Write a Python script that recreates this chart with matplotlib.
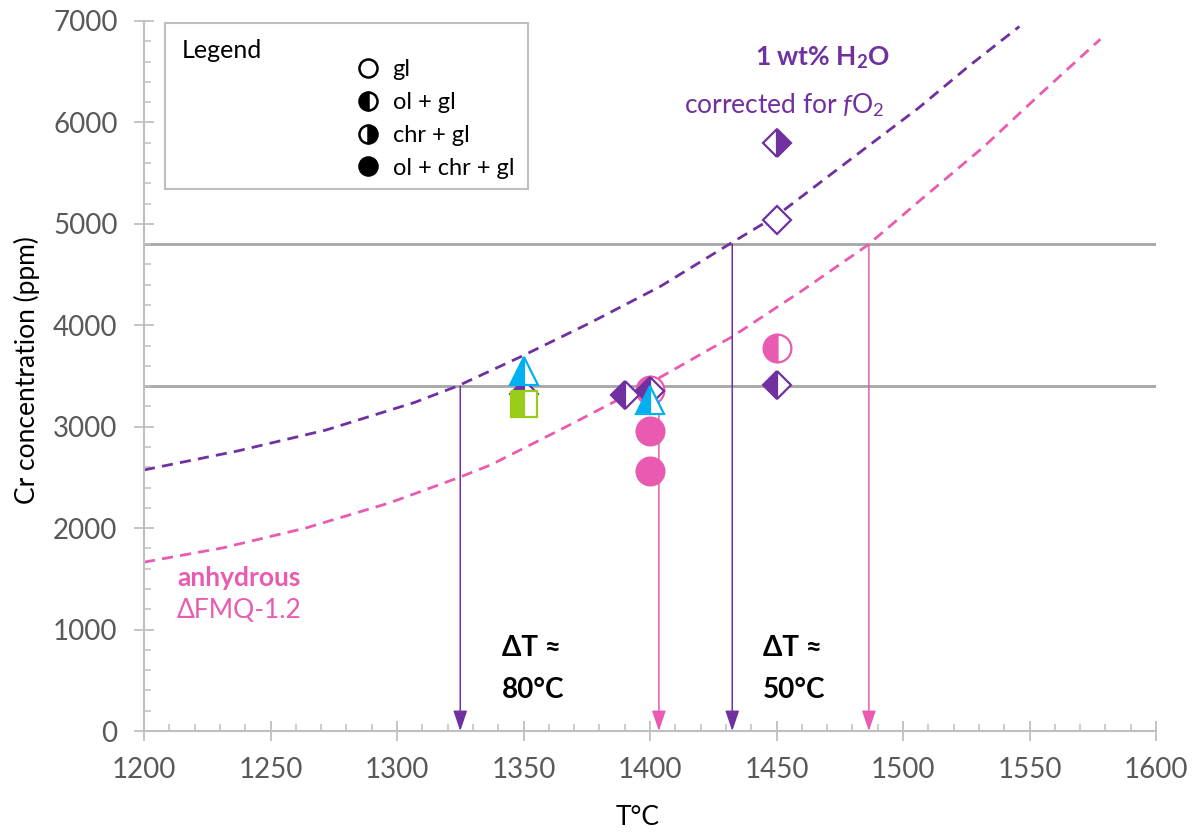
import matplotlib
matplotlib.use('Agg')
import matplotlib.pyplot as plt
from matplotlib.lines import Line2D
from matplotlib.patches import Rectangle
from matplotlib.ticker import MultipleLocator

plt.rcParams['font.family'] = ['Lato', 'DejaVu Sans']
plt.rcParams['mathtext.fontset'] = 'custom'
plt.rcParams['mathtext.rm'] = 'Lato'
plt.rcParams['mathtext.it'] = 'Lato:italic'
plt.rcParams['mathtext.bf'] = 'Lato:bold'

PURPLE = '#7030A0'
PINK = '#E95BB0'
CYAN = '#00B0F0'
GREEN = '#9ACD1A'
GRID = '#A6A6A6'
AXIS = '#BFBFBF'

# model curves
t_hydrous = [1200, 1237, 1272, 1307, 1324, 1349, 1376, 1404, 1432, 1450, 1480, 1506, 1526, 1546]
cr_hydrous = [2574, 2761, 2968, 3240, 3402, 3691, 4020, 4382, 4810, 5080, 5650, 6140, 6555, 6946]
t_anhydrous = [1200, 1231, 1264, 1297, 1324, 1337, 1370, 1400, 1424, 1432, 1460, 1486, 1507, 1532, 1554, 1578]
cr_anhydrous = [1665, 1805, 2002, 2249, 2495, 2623, 3040, 3430, 3770, 3880, 4340, 4790, 5237, 5762, 6274, 6821]

# reference Cr levels and where the curves cross them
cr_levels = [3400, 4800]
t_cross_hydrous = [1325, 1432.5]
t_cross_anhydrous = [1403.5, 1486.5]

# experiments
pink_t = [1400, 1400, 1400, 1450]
pink_cr = [3360, 2960, 2565, 3775]
pink_phase = ['ol+gl', 'ol+chr+gl', 'ol+chr+gl', 'ol+gl']

purple_t = [1350, 1390, 1400, 1450, 1450, 1450]
purple_cr = [3320, 3310, 3350, 5795, 5035, 3410]
purple_phase = ['ol+gl', 'ol+gl', 'ol+gl', 'chr+gl', 'gl', 'ol+gl']

green_t = [1350]
green_cr = [3225]
green_phase = ['ol+gl']

cyan_t = [1350, 1400]
cyan_cr = [3550, 3260]
cyan_phase = ['ol+gl', 'ol+gl']

fill_for = {'gl': 'none', 'ol+gl': 'left', 'chr+gl': 'right', 'ol+chr+gl': 'full'}


def draw_points(ax, ts, crs, phases, color, marker, ms, z):
    for t, cr, ph in zip(ts, crs, phases):
        fs = fill_for[ph]
        ax.plot([t], [cr], marker=marker, ms=ms, ls='none', color=color,
                mec=color, mew=1.6,
                fillstyle='full' if fs == 'none' else fs,
                mfc='white' if fs == 'none' else color,
                markerfacecoloralt='white', zorder=z)


fig = plt.figure(figsize=(11.95, 8.33), dpi=100)
ax = fig.add_axes([0.1205, 0.1224, 0.8469, 0.8524])

for lvl in cr_levels:
    ax.axhline(lvl, color=GRID, lw=2, zorder=1)

ax.plot(t_hydrous, cr_hydrous, color=PURPLE, lw=2.0, ls=(0, (4, 2.6)), zorder=2)
ax.plot(t_anhydrous, cr_anhydrous, color=PINK, lw=2.0, ls=(0, (4, 2.6)), zorder=2)

for t, lvl in zip(t_cross_hydrous, cr_levels):
    ax.annotate('', xy=(t, 0), xytext=(t, lvl),
                arrowprops=dict(arrowstyle='-|>,head_length=0.5,head_width=0.17',
                                color=PURPLE, lw=1.1, mutation_scale=25,
                                shrinkA=0, shrinkB=0), zorder=3)
for t, lvl in zip(t_cross_anhydrous, cr_levels):
    ax.annotate('', xy=(t, 0), xytext=(t, lvl),
                arrowprops=dict(arrowstyle='-|>,head_length=0.5,head_width=0.17',
                                color=PINK, lw=1.1, mutation_scale=25,
                                shrinkA=0, shrinkB=0), zorder=3)

draw_points(ax, pink_t, pink_cr, pink_phase, PINK, 'o', 20, 4)
draw_points(ax, purple_t, purple_cr, purple_phase, PURPLE, 'D', 14, 5)
draw_points(ax, green_t, green_cr, green_phase, GREEN, 's', 19, 6)
draw_points(ax, cyan_t, cyan_cr, cyan_phase, CYAN, '^', 20, 7)

# text labels
ax.text(1468, 6637, r'1 wt% H$_\mathbf{2}$O', color=PURPLE, fontsize=19,
        fontweight='bold', ha='center', va='center')
ax.text(1453, 6173, r'corrected for $f$O$_2$', color=PURPLE, fontsize=19,
        ha='center', va='center')
ax.text(1213, 1509, 'anhydrous', color=PINK, fontsize=19, fontweight='bold',
        ha='left', va='center')
ax.text(1213, 1193, 'ΔFMQ-1.2', color=PINK, fontsize=19, ha='left', va='center')
ax.text(1341.5, 818, 'ΔT ≈', fontsize=20, fontweight='bold', ha='left', va='center')
ax.text(1341.5, 404, '80°C', fontsize=20, fontweight='bold', ha='left', va='center')
ax.text(1444.7, 818, 'ΔT ≈', fontsize=20, fontweight='bold', ha='left', va='center')
ax.text(1444.7, 404, '50°C', fontsize=20, fontweight='bold', ha='left', va='center')

# legend box
ax.add_patch(Rectangle((0.0208, 0.763), 0.359, 0.234, transform=ax.transAxes,
                       fc='white', ec=AXIS, lw=1.5, zorder=8))
ax.text(0.0375, 0.958, 'Legend', transform=ax.transAxes, fontsize=18,
        ha='left', va='center', zorder=9)
leg_labels = ['gl', 'ol + gl', 'chr + gl', 'ol + chr + gl']
leg_phases = ['gl', 'ol+gl', 'chr+gl', 'ol+chr+gl']
handles = []
for ph in leg_phases:
    fs = fill_for[ph]
    handles.append(Line2D([], [], marker='o', ls='none', ms=13, color='black',
                          mec='black', mew=1.8,
                          fillstyle='full' if fs == 'none' else fs,
                          mfc='white' if fs == 'none' else 'black',
                          markerfacecoloralt='white'))
leg = ax.legend(handles, leg_labels, loc='upper left', bbox_to_anchor=(0.2095, 0.946),
                frameon=False, fontsize=17, borderpad=0, borderaxespad=0,
                handlelength=1.0, handletextpad=0.55, labelspacing=0.5)
leg.set_zorder(10)

# axes styling
ax.set_xlim(1200, 1600)
ax.set_ylim(0, 7000)
ax.xaxis.set_major_locator(MultipleLocator(50))
ax.xaxis.set_minor_locator(MultipleLocator(10))
ax.yaxis.set_major_locator(MultipleLocator(1000))
ax.yaxis.set_minor_locator(MultipleLocator(200))
for s in ['top', 'right']:
    ax.spines[s].set_visible(False)
for s in ['left', 'bottom']:
    ax.spines[s].set_color(AXIS)
    ax.spines[s].set_linewidth(1.5)
ax.tick_params(which='major', direction='inout', length=14, width=1.3,
               color=AXIS, labelsize=20, labelcolor='#595959', pad=12)
ax.tick_params(which='minor', direction='in', length=5, width=1.1, color=AXIS)
ax.set_xlabel('T°C', fontsize=19)
ax.set_ylabel('Cr concentration (ppm)', fontsize=19)
ax.xaxis.set_label_coords(0.488, -0.104)
ax.yaxis.set_label_coords(-0.103, 0.508)

fig.savefig('out.png', dpi=100)
